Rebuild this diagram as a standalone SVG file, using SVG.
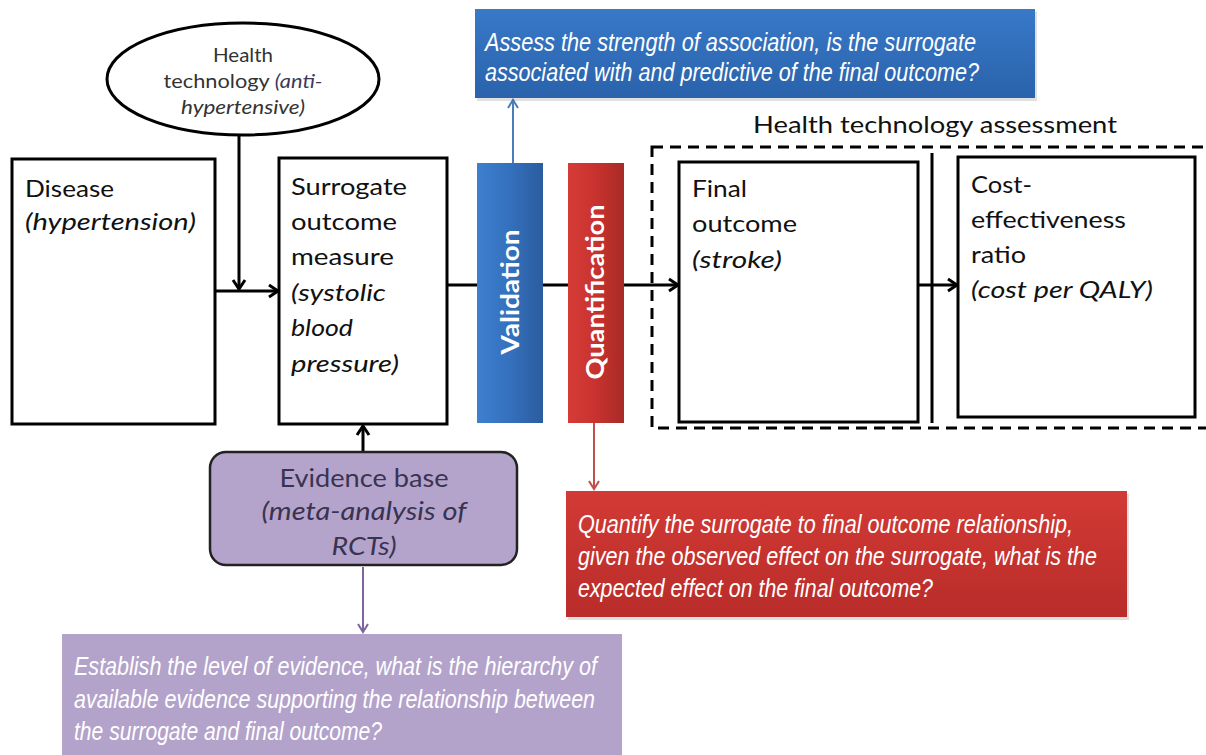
<svg xmlns="http://www.w3.org/2000/svg" width="1206" height="755" viewBox="0 0 1206 755">
<defs>
<style>
.box{fill:#fff;stroke:#000;stroke-width:3}
.t{font-family:Lato,"Liberation Sans",Arial,sans-serif;font-size:24px;fill:#111}
.i{font-style:italic}
.n{font-family:"Liberation Sans Narrow","Liberation Sans",Arial,sans-serif;font-style:italic;font-size:26px;fill:#fff}
.el{font-family:Lato,"Liberation Sans",Arial,sans-serif;font-size:20px;fill:#333}
.bar{font-family:Lato,"Liberation Sans",Arial,sans-serif;font-weight:bold;font-size:24px;fill:#fff}
.c{stroke:#000;stroke-width:3;fill:none}
.ev{font-family:Lato,"Liberation Sans",Arial,sans-serif;font-size:25px;fill:#3a3350}
</style>
<marker id="ak" markerUnits="userSpaceOnUse" markerWidth="16" markerHeight="16" refX="13" refY="8" orient="auto"><path d="M4,2 L13,8 L4,14" fill="none" stroke="#000" stroke-width="3"/></marker>
<marker id="ab" markerUnits="userSpaceOnUse" markerWidth="16" markerHeight="16" refX="13" refY="8" orient="auto"><path d="M5,3 L13,8 L5,13" fill="none" stroke="#4a7ebb" stroke-width="2"/></marker>
<marker id="ar" markerUnits="userSpaceOnUse" markerWidth="16" markerHeight="16" refX="13" refY="8" orient="auto"><path d="M5,3 L13,8 L5,13" fill="none" stroke="#c0504d" stroke-width="2"/></marker>
<marker id="ap" markerUnits="userSpaceOnUse" markerWidth="16" markerHeight="16" refX="13" refY="8" orient="auto"><path d="M5,3 L13,8 L5,13" fill="none" stroke="#8064a2" stroke-width="2"/></marker>
<linearGradient id="gBlueBar" x1="0" y1="0" x2="1" y2="0"><stop offset="0" stop-color="#3d80cf"/><stop offset="0.5" stop-color="#3470bd"/><stop offset="1" stop-color="#2b5c9f"/></linearGradient>
<linearGradient id="gRedBar" x1="0" y1="0" x2="1" y2="0"><stop offset="0" stop-color="#d63c37"/><stop offset="0.5" stop-color="#c8322e"/><stop offset="1" stop-color="#a82a27"/></linearGradient>
<linearGradient id="gBlue" x1="0" y1="0" x2="0" y2="1"><stop offset="0" stop-color="#3879c8"/><stop offset="1" stop-color="#2a62ab"/></linearGradient>
<linearGradient id="gRed" x1="0" y1="0" x2="0" y2="1"><stop offset="0" stop-color="#d33a35"/><stop offset="1" stop-color="#b82c29"/></linearGradient>
</defs>
<rect width="1206" height="755" fill="#fff"/>

<g id="connectors">
<line class="c" x1="239" y1="135" x2="239" y2="289" marker-end="url(#ak)"/>
<line class="c" x1="215" y1="291" x2="278" y2="291" marker-end="url(#ak)"/>
<line class="c" x1="447" y1="285" x2="678" y2="285" marker-end="url(#ak)"/>
<line class="c" x1="918" y1="285" x2="957" y2="285" marker-end="url(#ak)"/>
<line class="c" x1="363" y1="452" x2="363" y2="426" marker-end="url(#ak)"/>
<line x1="513" y1="163" x2="513" y2="100" stroke="#4a7ebb" stroke-width="2" marker-end="url(#ab)"/>
<line x1="594" y1="423" x2="594" y2="489" stroke="#c0504d" stroke-width="2" marker-end="url(#ar)"/>
<line x1="363" y1="567" x2="363" y2="632" stroke="#8064a2" stroke-width="2" marker-end="url(#ap)"/>
</g>

<g id="health-technology">
<ellipse cx="243" cy="79" rx="136" ry="56" fill="#fff" stroke="#000" stroke-width="3"/>
<text class="el" x="243" y="62" text-anchor="middle" textLength="60" lengthAdjust="spacingAndGlyphs">Health</text>
<text class="el" x="243" y="88" text-anchor="middle" textLength="159" lengthAdjust="spacingAndGlyphs">technology <tspan class="i" fill="#3d3858">(anti-</tspan></text>
<text class="el i" x="243" y="114" text-anchor="middle" fill="#3d3858" textLength="124" lengthAdjust="spacingAndGlyphs">hypertensive)</text>
</g>

<g id="disease">
<rect class="box" x="12" y="159" width="203" height="265"/>
<text class="t" x="25" y="197" textLength="89" lengthAdjust="spacingAndGlyphs">Disease</text>
<text class="t i" x="25" y="230" textLength="171" lengthAdjust="spacingAndGlyphs">(hypertension)</text>
</g>

<g id="surrogate">
<rect class="box" x="279" y="158" width="168" height="266"/>
<text class="t" x="291" y="195" textLength="116" lengthAdjust="spacingAndGlyphs">Surrogate</text>
<text class="t" x="291" y="230" textLength="106" lengthAdjust="spacingAndGlyphs">outcome</text>
<text class="t" x="291" y="265" textLength="103" lengthAdjust="spacingAndGlyphs">measure</text>
<text class="t i" x="291" y="301" textLength="95" lengthAdjust="spacingAndGlyphs">(systolic</text>
<text class="t i" x="291" y="336" textLength="62" lengthAdjust="spacingAndGlyphs">blood</text>
<text class="t i" x="291" y="372" textLength="108" lengthAdjust="spacingAndGlyphs">pressure)</text>
</g>

<g id="validation">
<rect x="477" y="163" width="66" height="260" fill="url(#gBlueBar)"/>
<text class="bar" transform="translate(519,292) rotate(-90)" text-anchor="middle" textLength="125" lengthAdjust="spacingAndGlyphs">Validation</text>
</g>

<g id="quantification">
<rect x="568" y="163" width="56" height="260" fill="url(#gRedBar)"/>
<text class="bar" transform="translate(604,292) rotate(-90)" text-anchor="middle" textLength="175" lengthAdjust="spacingAndGlyphs">Quantification</text>
</g>

<g id="hta">
<text class="t" x="753" y="133" textLength="364" lengthAdjust="spacingAndGlyphs">Health technology assessment</text>
<rect x="652" y="147" width="570" height="281" fill="none" stroke="#000" stroke-width="3" stroke-dasharray="11,7"/>
<line x1="932" y1="153" x2="932" y2="423" stroke="#000" stroke-width="3"/>
</g>

<g id="final-outcome">
<rect class="box" x="679" y="162" width="239" height="260"/>
<text class="t" x="692" y="197" textLength="55" lengthAdjust="spacingAndGlyphs">Final</text>
<text class="t" x="692" y="232" textLength="105" lengthAdjust="spacingAndGlyphs">outcome</text>
<text class="t i" x="692" y="268" textLength="90" lengthAdjust="spacingAndGlyphs">(stroke)</text>
</g>

<g id="cost-effectiveness">
<rect class="box" x="958" y="157" width="237" height="260"/>
<text class="t" x="971" y="193" textLength="61" lengthAdjust="spacingAndGlyphs">Cost-</text>
<text class="t" x="971" y="228" textLength="155" lengthAdjust="spacingAndGlyphs">effectiveness</text>
<text class="t" x="971" y="263" textLength="55" lengthAdjust="spacingAndGlyphs">ratio</text>
<text class="t i" x="971" y="298" textLength="182" lengthAdjust="spacingAndGlyphs">(cost per QALY)</text>
</g>

<g id="evidence-base">
<rect x="210" y="452" width="307" height="113" rx="16" fill="#b4a4cc" stroke="#222" stroke-width="2.5"/>
<text class="ev" x="364" y="487" text-anchor="middle" textLength="169" lengthAdjust="spacingAndGlyphs">Evidence base</text>
<text class="ev i" x="364" y="520" text-anchor="middle" textLength="205" lengthAdjust="spacingAndGlyphs">(meta-analysis of</text>
<text class="ev i" x="364" y="555" text-anchor="middle" textLength="65" lengthAdjust="spacingAndGlyphs">RCTs)</text>
</g>

<g id="validation-note">
<rect x="477" y="12" width="560" height="89" fill="#000" opacity="0.12"/>
<rect x="475" y="9" width="560" height="89" fill="url(#gBlue)"/>
<text class="n" x="485" y="51" textLength="491" lengthAdjust="spacingAndGlyphs">Assess the strength of association, is the surrogate</text>
<text class="n" x="485" y="81" textLength="494" lengthAdjust="spacingAndGlyphs">associated with and predictive of the final outcome?</text>
</g>

<g id="quantification-note">
<rect x="568" y="494" width="561" height="126" fill="#000" opacity="0.12"/>
<rect x="566" y="491" width="561" height="126" fill="url(#gRed)"/>
<text class="n" x="578" y="533" textLength="495" lengthAdjust="spacingAndGlyphs">Quantify the surrogate to final outcome relationship,</text>
<text class="n" x="578" y="565" textLength="519" lengthAdjust="spacingAndGlyphs">given the observed effect on the surrogate, what is the</text>
<text class="n" x="578" y="597" textLength="355" lengthAdjust="spacingAndGlyphs">expected effect on the final outcome?</text>
</g>

<g id="evidence-note">
<rect x="62" y="634" width="560" height="125" fill="#b3a3cb"/>
<text class="n" x="74" y="675" fill="#f6f2fa" textLength="523" lengthAdjust="spacingAndGlyphs">Establish the level of evidence, what is the hierarchy of</text>
<text class="n" x="74" y="708" fill="#f6f2fa" textLength="521" lengthAdjust="spacingAndGlyphs">available evidence supporting the relationship between</text>
<text class="n" x="74" y="740" fill="#f6f2fa" textLength="308" lengthAdjust="spacingAndGlyphs">the surrogate and final outcome?</text>
</g>
</svg>
